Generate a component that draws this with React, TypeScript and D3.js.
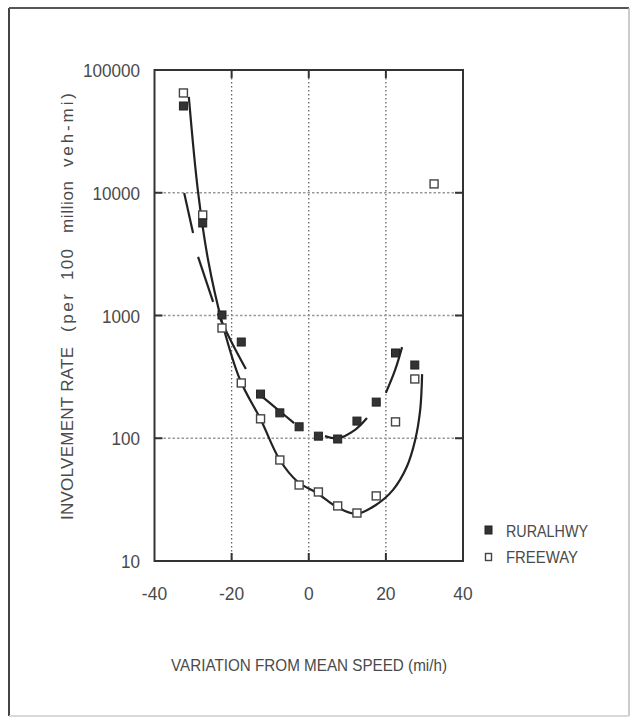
import React from "react";
import * as d3 from "d3";

const speedBins = [-32.5, -27.5, -22.5, -17.5, -12.5, -7.5, -2.5, 2.5, 7.5, 12.5, 17.5, 22.5, 27.5];
const ruralRates = [50900, 5670, 1010, 608, 229, 161, 124, 104, 98.6, 138, 197, 495, 395];
const freewayX = [-32.5, -27.5, -22.5, -17.5, -12.5, -7.5, -2.5, 2.5, 7.5, 12.5, 17.5, 22.5, 27.5, 32.5];
const freewayRates = [65000, 6590, 791, 282, 144, 66.5, 41.6, 36.5, 28.1, 24.6, 33.9, 136, 304, 11800];

const freewayFitX = [-31.1, -28.7, -26.1, -22.5, -17.8, -12.4, -7.5, -2.8, 2.1, 7.3, 12.3, 17.4, 21.8, 25.4, 27.6, 28.9, 29.4];
const freewayFitY = [60300, 10100, 2830, 885, 298, 141, 66.5, 44, 35.8, 27.5, 24.2, 28.6, 37.8, 58.3, 96.8, 170, 333];

const ruralFitSegments: [number, number][][] = [
  [[-32.3, 9950], [-30.0, 4700]],
  [[-28.7, 3000], [-24.8, 1290]],
  [[-23.6, 1040], [-19.9, 597], [-16.3, 366]],
  [[-12.9, 229], [-8.5, 176], [-3.8, 133]],
  [[4.2, 104], [7.6, 100], [12.0, 117], [15.1, 146]],
  [[20.0, 234], [22.4, 360], [24.2, 553]],
];

const xTicks = [-40, -20, 0, 20, 40];
const yTicks = [10, 100, 1000, 10000, 100000];
const gridX = [-20, 0, 20];
const gridY = [100, 1000, 10000];

const xTitle = "VARIATION FROM MEAN SPEED (mi/h)";
const yTitleWords = ["INVOLVEMENT RATE", "(per", "100", "million", "veh-mi)"];
const legendLabels = ["RURALHWY", "FREEWAY"];

// layout of the y-title words along the rotated axis: [offset, length]
const yTitleLayout: [number, number][] = [[0, 173], [188, 38], [240, 31], [287, 52], [353, 74]];

const W = 631;
const H = 719;
const left = 154.5, right = 463, top = 70, bottom = 561;
const FONT = "'Liberation Sans', Arial, sans-serif";
const TXT = "#4a4a4a";

export default function App() {
  const x = d3.scaleLinear().domain([-40, 40]).range([left, right]);
  const y = d3.scaleLog().domain([10, 100000]).range([bottom, top]);
  const line = d3
    .line<[number, number]>()
    .x((d) => x(d[0]))
    .y((d) => y(d[1]))
    .curve(d3.curveCatmullRom.alpha(0.5));
  const fwPts: [number, number][] = freewayFitX.map((v, i) => [v, freewayFitY[i]]);
  const sq = 8;
  return (
    <svg width={W} height={H} style={{ position: "absolute", left: 0, top: 0, background: "#fff" }}>
      {/* outer frame */}
      <line x1={9} y1={8} x2={9} y2={716} stroke="#444" strokeWidth={2} />
      <line x1={9} y1={8} x2={629} y2={8} stroke="#555" strokeWidth={2} />
      <line x1={629} y1={8} x2={629} y2={716} stroke="#bbb" strokeWidth={1.5} />
      <line x1={9} y1={716} x2={629} y2={716} stroke="#ccc" strokeWidth={1.5} />

      {/* grid */}
      {gridX.map((g) => (
        <line key={"gx" + g} x1={x(g)} x2={x(g)} y1={top} y2={bottom} stroke="#666" strokeWidth={1.3} strokeDasharray="1.5,2.5" />
      ))}
      {gridY.map((g) => (
        <line key={"gy" + g} x1={left} x2={right} y1={y(g)} y2={y(g)} stroke="#999" strokeWidth={1.3} strokeDasharray="2.5,2" />
      ))}

      {/* ticks */}
      {gridX.map((g) => (
        <g key={"tx" + g} stroke="#333" strokeWidth={2}>
          <line x1={x(g)} x2={x(g)} y1={bottom} y2={bottom - 8} />
          <line x1={x(g)} x2={x(g)} y1={top} y2={top + 8} />
        </g>
      ))}
      {gridY.map((g) => (
        <g key={"ty" + g} stroke="#333" strokeWidth={2}>
          <line x1={left} x2={left + 8} y1={y(g)} y2={y(g)} />
          <line x1={right} x2={right - 8} y1={y(g)} y2={y(g)} />
        </g>
      ))}

      {/* plot border */}
      <rect x={left} y={top} width={right - left} height={bottom - top} fill="none" stroke="#333" strokeWidth={2} />

      {/* tick labels */}
      {xTicks.map((t) => (
        <text key={"xl" + t} transform={`translate(${x(t)},600) scale(0.92,1)`} textAnchor="middle" fontFamily={FONT} fontSize={19} fill={TXT}>
          {t}
        </text>
      ))}
      {yTicks.map((t) => (
        <text key={"yl" + t} transform={`translate(140,${y(t) + 7}) scale(0.9,1)`} textAnchor="end" fontFamily={FONT} fontSize={19} fill={TXT}>
          {t}
        </text>
      ))}

      {/* axis titles */}
      <text x={171} y={671} fontFamily={FONT} fontSize={17} fill={TXT} textLength={276} lengthAdjust="spacingAndGlyphs">
        {xTitle}
      </text>
      <g transform={`translate(73,520) rotate(-90)`}>
        {yTitleWords.map((w, i) => (
          <text key={"yt" + i} x={yTitleLayout[i][0]} y={0} fontFamily={FONT} fontSize={17} fill={TXT} textLength={yTitleLayout[i][1]} lengthAdjust="spacing">
            {w}
          </text>
        ))}
      </g>

      {/* fitted curves */}
      <path d={line(fwPts) || ""} fill="none" stroke="#222" strokeWidth={2.2} />
      {ruralFitSegments.map((seg, i) => (
        <path key={"rs" + i} d={line(seg) || ""} fill="none" stroke="#222" strokeWidth={2.2} />
      ))}

      {/* markers */}
      {freewayX.map((v, i) => (
        <rect key={"fw" + i} x={x(v) - sq / 2} y={y(freewayRates[i]) - sq / 2} width={sq} height={sq} fill="#fff" stroke="#444" strokeWidth={1.4} />
      ))}
      {speedBins.map((v, i) => (
        <rect key={"ru" + i} x={x(v) - sq / 2} y={y(ruralRates[i]) - sq / 2} width={sq} height={sq} fill="#333" stroke="#222" strokeWidth={1} />
      ))}

      {/* legend */}
      <rect x={485} y={526} width={7} height={8} fill="#333" stroke="#222" strokeWidth={1} />
      <text x={506} y={537} fontFamily={FONT} fontSize={17} fill={TXT} textLength={82} lengthAdjust="spacingAndGlyphs">{legendLabels[0]}</text>
      <rect x={485.5} y={553.5} width={6} height={7} fill="#fff" stroke="#444" strokeWidth={1.4} />
      <text x={506} y={563} fontFamily={FONT} fontSize={17} fill={TXT} textLength={72} lengthAdjust="spacingAndGlyphs">{legendLabels[1]}</text>
    </svg>
  );
}
